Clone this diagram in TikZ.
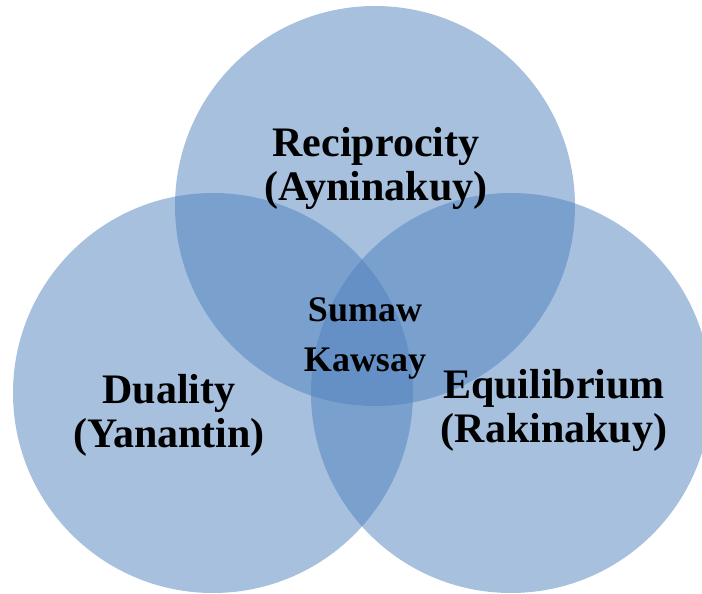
\documentclass[tikz,border=0pt]{standalone}
\usepackage{fontspec}
\setmainfont{Liberation Serif}
\definecolor{setblue}{HTML}{4F81BD}

\begin{document}
\begin{tikzpicture}[x=1pt, y=1pt,
  set/.style={circle, minimum size=400pt, inner sep=0pt, fill=setblue, fill opacity=0.5},
  big label/.style={align=center, inner sep=0pt, font=\fontsize{42}{44}\selectfont\bfseries},
  core label/.style={align=center, inner sep=0pt, font=\fontsize{36}{50}\selectfont\bfseries}]

\useasboundingbox (0,0) rectangle (702,594);
\clip (0,0) rectangle (702,594);

\foreach \n/\p in {reciprocity/{(375,388)}, duality/{(213,201)}, equilibrium/{(511,201)}}
  \node [set] (\n) at \p {};

\node [big label] (reciprocity-text) at (376,426) {Reciprocity\\(Ayninakuy)};
\node [big label] (duality-text) at (169,179) {Duality\\(Yanantin)};
\node [big label] (equilibrium-text) at (554,184) {Equilibrium\\(Rakinakuy)};

\node [core label] (sumaw-text) at (365,256) {Sumaw\\Kawsay};

\end{tikzpicture}
\end{document}
